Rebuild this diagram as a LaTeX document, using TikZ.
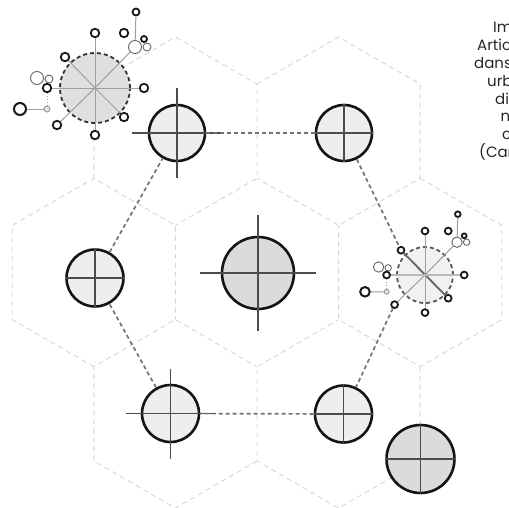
\documentclass[tikz,border=0pt]{standalone}
\usepackage{fontspec}
\newfontfamily\capfont{Poppins}
\tikzset{
 grid/.style={draw=gray!32, line width=0.9pt, dash pattern=on 5pt off 4pt},
 conn/.style={draw=black!55, line width=1.7pt, dash pattern=on 4pt off 3pt},
 ring/.style={circle, draw=black!92, line width=2.6pt, fill=gray!13, inner sep=0pt},
 ringdk/.style={ring, fill=gray!28},
 crossln/.style={draw=black!70, line width=1.1pt},
 clus/.style={circle, draw=black!80, line width=1.8pt, dash pattern=on 4pt off 3pt, fill=gray!25, inner sep=0pt},
 spoke/.style={draw=gray!75, line width=1pt},
 dot/.style={circle, draw=black!90, line width=1.8pt, fill=white, inner sep=0pt, minimum size=8.5pt},
 tdot/.style={circle, draw=black!60, line width=0.9pt, fill=white, inner sep=0pt},
 sdot/.style={circle, draw=gray!75, line width=1pt, fill=gray!20, inner sep=0pt, minimum size=6pt},
 captxt/.style={anchor=base west, inner sep=0pt, font=\capfont\fontsize{15}{18}\selectfont, text=black!85}
}
\newcommand\mycluster[6]{%
\begin{scope}[shift={(#2,#3)}, scale=#4, every node/.append style={transform shape}]
 \node[clus, fill=#5, draw=#6, minimum size=70pt] (#1c) at (0,0) {};
 \node[tdot, minimum size=13pt] (#1t1) at (40,-41) {};
 \node[dot, minimum size=6pt] (#1t2) at (49,-49) {};
 \node[tdot, minimum size=8pt] (#1t3) at (52,-41) {};
 \node[dot] (#1t4) at (29,-55) {};
 \node[dot, minimum size=7pt] (#1t5) at (41,-76) {};
 \node[dot] (#1n) at (0,-55) {};
 \node[dot] (#1e) at (49,0) {};
 \node[dot] (#1se) at (29,29) {};
 \node[dot] (#1s) at (0,47) {};
 \node[dot] (#1sw) at (-38,37) {};
 \node[tdot, minimum size=13pt] (#1l1) at (-58,-10) {};
 \node[tdot, minimum size=8pt] (#1l2) at (-46,-9) {};
 \node[dot] (#1w) at (-48,0) {};
 \node[sdot] (#1l3) at (-48,21) {};
 \node[dot, minimum size=12pt, line width=2pt] (#1l4) at (-75,21) {};
 \node[dot] (#1nw) at (-30,-31) {};
 \draw[spoke] (#1c.center) -- (#1n);
 \draw[spoke] (#1c.center) -- (#1t1);
 \draw[spoke] (#1c.center) -- (#1e);
 \draw[spoke] (#1c.center) -- (#1se);
 \draw[spoke] (#1c.center) -- (#1s);
 \draw[spoke] (#1c.center) -- (#1sw);
 \draw[spoke] (#1c.center) -- (#1w);
 \draw[spoke] (#1c.center) -- (#1nw);
 \draw[spoke] (#1t5) -- (#1t1);
 \draw[spoke, dotted] (#1w) -- (#1l3);
 \draw[spoke] (#1l3) -- (#1l4);
\end{scope}}
\begin{document}
\begin{tikzpicture}[x=1pt, y=-1pt]
\useasboundingbox (0,0) rectangle (509,507);
\clip (0,0) rectangle (509,507);
\fill[white] (0,0) rectangle (509,507);
% hexagonal grid
\coordinate (C) at (257,272.5);
\foreach \t in {0,60,...,300}{
  \draw[grid] (C) ++(\t:163.2) +(\t+270:94.2) -- +(\t+330:94.2) -- +(\t+390:94.2)
     -- +(\t+450:94.2) -- +(\t+510:94.2) -- +(\t+570:94.2);
}
% clusters
\mycluster{a}{95}{88}{1}{gray!25}{black!80}
\mycluster{b}{425}{275}{0.8}{gray!11}{black!65}
\draw[line width=1.8pt, black!60] (bnw) -- (bse);
\draw[line width=1.6pt, gray!55] (bw) -- (be);
% circles
\node[ring, minimum size=56pt] (tl) at (177,133) {};
\node[ring, minimum size=56pt] (tr) at (344,133) {};
\node[ring, minimum size=57pt] (lf) at (95,278) {};
\node[ringdk, minimum size=72pt] (ce) at (258,273) {};
\node[ring, minimum size=57pt] (bl) at (170.5,413.5) {};
\node[ring, minimum size=57pt] (br) at (343.5,414) {};
\node[ringdk, minimum size=68pt] (bg) at (420.5,459) {};
% crosses
\draw[crossln] (tl) +(-45,0) -- +(45,0) (tl) +(0,-45) -- +(0,45);
\draw[crossln] (tr.west) -- (tr.east) (tr.north) -- (tr.south);
\draw[crossln] (lf.west) -- (lf.east) (lf.north) -- (lf.south);
\draw[crossln] (ce) +(-58,0) -- +(58,0) (ce) +(0,-58) -- +(0,58);
\draw[crossln] (bl) +(-45,0) -- +(45,0) (bl) +(0,-45) -- +(0,45);
\draw[crossln] (br.west) -- (br.east) (br.north) -- (br.south);
\draw[crossln] (bg.west) -- (bg.east) (bg.north) -- (bg.south);
% connectors
\draw[conn] (tl) -- (tr);
\draw[conn] (tr) -- (bnw);
\draw[conn] (bsw) -- (br);
\draw[conn] (br) -- (bl);
\draw[conn] (bl) -- (lf);
\draw[conn] (lf) -- (tl);
% caption (cut by the border)
\node[captxt] (c1) at (493,32.5) {Im};
\node[captxt] (c2) at (477,50.3) {Artic};
\node[captxt] (c3) at (474,68) {dans};
\node[captxt] (c4) at (487,86) {urb};
\node[captxt] (c5) at (495,104) {di};
\node[captxt] (c6) at (500.5,121.8) {n};
\node[captxt] (c7) at (502,139.5) {c};
\node[captxt] (c8) at (479,157.3) {(Car};
\end{tikzpicture}
\end{document}
